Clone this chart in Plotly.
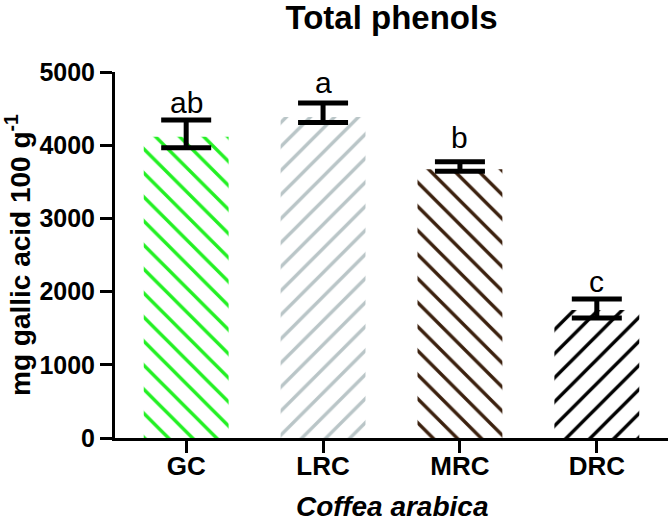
import plotly.graph_objects as go

categories = ["GC", "LRC", "MRC", "DRC"]
means = [4115, 4385, 3670, 1750]
err_plus = [230, 190, 105, 150]
err_minus = [150, 75, 25, 110]
letters = ["ab", "a", "b", "c"]
letter_base = [4440, 4710, 3960, 1990]
colors = ["#22F022", "#B9C5C7", "#3B200D", "#000000"]
shapes = ["\\", "/", "\\", "/"]
y_ticks = [0, 1000, 2000, 3000, 4000, 5000]

FONT = "Liberation Sans, Arial, sans-serif"

fig = go.Figure()
fig.add_trace(go.Bar(
    x=categories, y=means, width=0.62,
    marker=dict(color=colors, line=dict(width=0),
                pattern=dict(shape=shapes, fgcolor="white", bgcolor=colors,
                             size=17, solidity=0.2, fillmode="replace")),
    error_y=dict(type="data", symmetric=False, array=err_plus, arrayminus=err_minus,
                 color="black", thickness=5, width=25),
    showlegend=False,
))

for c, t, yb in zip(categories, letters, letter_base):
    fig.add_annotation(x=c, y=yb, text=t, showarrow=False, yanchor="bottom", yshift=-8,
                       font=dict(family=FONT, size=30, color="black"))

fig.add_annotation(text="<b><i>Coffea arabica</i></b>", xref="paper", yref="paper",
                   x=0.5, y=-0.188, yanchor="middle", showarrow=False,
                   font=dict(family=FONT, size=28, color="black"))

fig.update_layout(
    width=672, height=522,
    margin=dict(l=115, r=4, t=72, b=84),
    paper_bgcolor="white", plot_bgcolor="white",
    title=dict(text="<b>Total phenols</b>", x=0.5, xref="paper", y=0.967, yanchor="middle",
               font=dict(family=FONT, size=33, color="black")),
)
fig.update_xaxes(
    range=[-0.52, 3.52], showline=True, linewidth=3, linecolor="black",
    ticks="outside", ticklen=12, tickwidth=3, tickcolor="black",
    tickfont=dict(family=FONT, size=26, color="black"),
    tickvals=categories, ticktext=[f"<b>{c}</b>" for c in categories],
    ticklabelstandoff=-9,
    showgrid=False, zeroline=False,
)
fig.update_yaxes(
    range=[0, 5000], tickvals=y_ticks, ticktext=[f"<b>{v}</b>" for v in y_ticks],
    showline=True, linewidth=3, linecolor="black",
    ticks="outside", ticklen=12, tickwidth=3, tickcolor="black",
    tickfont=dict(family=FONT, size=25, color="black"),
    title=dict(text="<b>mg gallic acid 100 g<sup>-1</sup></b>", standoff=6,
               font=dict(family=FONT, size=28, color="black")),
    showgrid=False, zeroline=False,
)

fig.write_html("out.html", config={"displayModeBar": False},
               post_script="document.body.style.margin='0';")
